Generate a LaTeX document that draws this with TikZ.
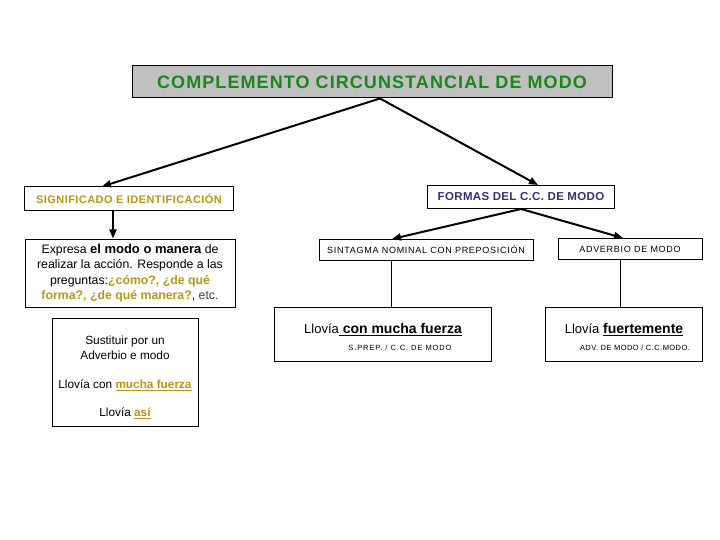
\documentclass[tikz,border=0pt]{standalone}
\usepackage{fontspec}
\setmainfont{Liberation Sans}
\usetikzlibrary{positioning,calc,arrows.meta}

\definecolor{titlegreen}{RGB}{25,135,25}
\definecolor{gold}{RGB}{184,150,20}
\definecolor{navy}{RGB}{50,50,120}
\definecolor{titlegray}{RGB}{192,192,192}

\tikzset{
  box/.style={draw=black, line width=1pt, inner sep=2pt, align=center},
  link/.style={-{Triangle[length=9pt,width=7pt]}, line width=2pt},
  stem/.style={line width=1pt},
  caps/.style={font=\fontsize{9}{11}\selectfont\addfontfeatures{LetterSpace=8}},
}

\begin{document}
\begin{tikzpicture}[x=1pt, y=-1pt]
  \useasboundingbox (0,0) rectangle (720,540);

  % title
  \node[box, fill=titlegray, minimum width=480pt, minimum height=32pt, text=titlegreen,
    font=\fontsize{18}{20}\selectfont\bfseries\addfontfeatures{LetterSpace=6}] (title) at (372,82)
    {COMPLEMENTO CIRCUNSTANCIAL DE MODO};

  % left branch
  \node[box, minimum width=209pt, minimum height=24pt, text=gold,
    font=\fontsize{11}{12}\selectfont\bfseries\addfontfeatures{LetterSpace=4}] (sig) at (129,199)
    {SIGNIFICADO E IDENTIFICACIÓN};
  \node[box, minimum width=210pt, minimum height=68pt,
    font=\fontsize{12.3}{15.3}\selectfont] (expresa) at (130,273)
    {Expresa {\fontsize{13}{15}\selectfont\bfseries el modo o manera} de\\
     realizar la acción. Responde a las\\
     preguntas:{\color{gold}\bfseries ¿cómo?, ¿de qué}\\
     {\color{gold}\bfseries forma?, ¿de qué manera?}, {\color{darkgray}etc.}};
  \node[box, minimum width=146pt, minimum height=108pt,
    font=\fontsize{11.8}{15}\selectfont] (sust) at (125,372)
    {\rule{0pt}{20pt}Sustituir por un\\Adverbio e modo\\[14pt]
     Llovía con {\color{gold}\underline{\bfseries mucha fuerza}}\\[13pt]
     Llovía {\color{gold}\underline{\bfseries así}}};

  % right branch
  \node[box, minimum width=187pt, minimum height=23pt, text=navy,
    font=\fontsize{11.5}{13}\selectfont\bfseries\addfontfeatures{LetterSpace=3}] (formas) at (521,197)
    {FORMAS DEL C.C. DE MODO};
  \node[box, caps, minimum width=214pt, minimum height=21pt] (sintagma) at (426,250)
    {SINTAGMA NOMINAL CON PREPOSICIÓN};
  \node[box, caps, minimum width=144pt, minimum height=21pt] (adverbio) at (630,249)
    {ADVERBIO DE MODO};
  \node[box, minimum width=217pt, minimum height=54pt,
    font=\fontsize{13}{17}\selectfont] (ejemplo1) at (383,334)
    {\rule{0pt}{16pt}Llovía\underline{\fontsize{14}{16}\selectfont\bfseries\ con mucha fuerza}\\
     \hspace*{34pt}{\fontsize{7.5}{9}\selectfont\addfontfeatures{LetterSpace=12}S.PREP. / C.C. DE MODO}};
  \node[box, minimum width=157pt, minimum height=54pt,
    font=\fontsize{13}{17}\selectfont] (ejemplo2) at (624,334)
    {\rule{0pt}{16pt}Llovía \underline{\fontsize{14}{16}\selectfont\bfseries fuertemente}\\
     \hspace*{22pt}{\fontsize{7.5}{9}\selectfont\addfontfeatures{LetterSpace=6}ADV. DE MODO / C.C.MODO.}};

  % connectors
  \draw[link] ($(title.south)+(8,0)$) -- ($(sig.north)+(-27,0)$);
  \draw[link] ($(title.south)+(8,0)$) -- ($(formas.north)+(17,0)$);
  \coordinate (sigfoot) at ($(sig.south)+(-16,0)$);
  \draw[link] (sigfoot) -- (sigfoot |- expresa.north);
  \draw[link] (formas.south) -- ($(sintagma.north)+(-34,0)$);
  \draw[link] (formas.south) -- ($(adverbio.north)+(-7,0)$);
  \coordinate (sx) at ($(sintagma.south)+(-35,0)$);
  \coordinate (ax) at ($(adverbio.south)+(-10,0)$);
  \draw[stem] (sx) -- (sx |- ejemplo1.north);
  \draw[stem] (ax) -- (ax |- ejemplo2.north);
\end{tikzpicture}
\end{document}
